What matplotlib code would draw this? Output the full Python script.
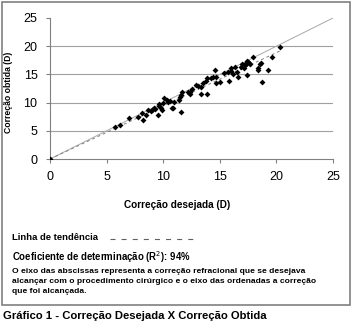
import numpy as np
from matplotlib import pyplot as plt
from matplotlib.patches import Rectangle
from matplotlib.lines import Line2D

plt.rcParams['font.family'] = ['Liberation Sans', 'DejaVu Sans']

# Data
desejada = [0, 5.7, 6.2, 7.0, 7.8, 8.1, 8.25, 8.45, 8.7, 9.0, 9.3, 9.5, 9.65, 9.8,
            9.95, 10.1, 9.85, 10.45, 10.75, 10.95, 11.5, 11.55, 10.6, 10.85, 11.4,
            11.7, 12.4, 12.5, 12.4, 12.9, 13.3, 13.3, 13.5, 13.8, 13.9, 13.9, 14.4,
            14.6, 14.7, 14.7, 15.0, 15.75, 15.8, 15.95, 16.2, 16.3, 16.5, 16.6, 17.1,
            17.3, 17.4, 17.5, 17.7, 17.95, 18.4, 18.6, 18.7, 19.3, 19.6, 20.3,
            17.2, 17.4, 17.6, 17.0, 18.55, 18.4, 8.9, 9.2, 9.6, 10.3, 11.6, 12.2,
            13.1, 14.2, 15.4, 16.0, 16.9, 17.3]
obtida = [0, 5.7, 6.1, 7.3, 7.4, 8.1, 7.0, 7.8, 8.7, 8.7, 8.8, 7.8, 9.4, 9.0,
          10.0, 10.9, 8.7, 10.1, 9.0, 10.1, 11.05, 8.4, 10.2, 9.0, 10.4,
          11.8, 11.9, 12.5, 11.6, 13.1, 11.6, 12.7, 13.4, 13.8, 14.3, 11.6, 14.6,
          15.7, 14.5, 13.4, 13.7, 15.5, 13.9, 16.1, 15.1, 16.4, 15.5, 14.6, 16.1,
          17.0, 14.9, 17.2, 16.8, 18.1, 16.1, 17.0, 13.7, 15.8, 18.0, 19.9,
          16.6, 17.3, 17.0, 16.8, 16.9, 15.8, 8.5, 9.1, 9.8, 10.5, 11.3, 11.8,
          12.9, 14.4, 15.2, 15.6, 16.3, 16.9]
ticks = [0, 5, 10, 15, 20, 25]

x = np.array(desejada)
y = np.array(obtida)
slope = (x * y).sum() / (x * x).sum()  # trend through origin

fig = plt.figure(figsize=(3.53, 3.24), dpi=100)
W, H = 353.0, 324.0

# outer frame
fig.patches.append(Rectangle((1.5 / W, 1 - 305 / H), 348 / W, 303 / H,
                             transform=fig.transFigure, fill=False,
                             edgecolor='#808080', linewidth=1.2))

ax = fig.add_axes([50 / W, 1 - 159 / H, 283 / W, 141 / H])
ax.set_xlim(0, 25)
ax.set_ylim(0, 25)
for t in ticks[1:-1]:
    ax.axhline(t, color='#a0a0a0', linewidth=0.8, zorder=0)
ax.plot([0, 25], [0, 25], color='#a8a8a8', linewidth=0.7, zorder=1)
xt = np.array([0, x.max()])
ax.plot(xt, slope * xt, color='#808080', linewidth=0.7, linestyle=(0, (3, 3)), zorder=1)
ax.scatter(x, y, marker='D', s=9, color='black', zorder=3, linewidths=0)

for s in ['top', 'right']:
    ax.spines[s].set_visible(False)
ax.spines['left'].set_color('#808080')
ax.spines['bottom'].set_color('#808080')
ax.set_xticks(ticks)
ax.set_yticks(ticks)
ax.tick_params(direction='out', length=3, color='#808080', labelsize=9, pad=6)
ax.set_xlabel('Correção desejada (D)', fontsize=7.2, fontweight='bold')
ax.xaxis.set_label_coords(127 / 283, -41 / 141)
ax.set_ylabel('Correção obtida (D)', fontsize=6.2, fontweight='bold')
ax.yaxis.set_label_coords(-37 / 283, 0.475)

# notes below chart
fig.text(12 / W, 1 - 238 / H, 'Linha de tendência', fontsize=6.8, fontweight='bold', va='center')
fig.add_artist(Line2D([110 / W, 195 / W], [1 - 239 / H, 1 - 239 / H],
                      transform=fig.transFigure, color='#606060', linewidth=0.8,
                      dashes=(4.5, 5.5)))
fig.text(12 / W, 1 - 257 / H, 'Coeficiente de determinação (R$^2$): 94%', fontsize=6.9,
         fontweight='bold', va='center')
fig.text(12 / W, 1 - 268 / H,
         'O eixo das abscissas representa a correção refracional que se desejava\n'
         'alcançar com o procedimento cirúrgico e o eixo das ordenadas a correção\n'
         'que foi alcançada.', fontsize=6.1, fontweight='bold', va='top', linespacing=1.6)
fig.text(3 / W, 1 - 316 / H, 'Gráfico 1 - Correção Desejada X Correção Obtida',
         fontsize=8.1, fontweight='bold', va='center')

fig.savefig('out.png', dpi=100)
